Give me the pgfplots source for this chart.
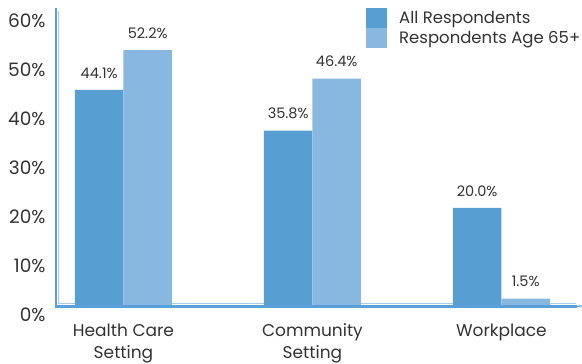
\documentclass[border=0pt]{standalone}
\usepackage{fontspec}
\setmainfont{Poppins}
\usepackage{pgfplots}
\pgfplotsset{compat=1.18}
\definecolor{darkbar}{HTML}{579FD3}
\definecolor{lightbar}{HTML}{88B8E0}
\definecolor{axisblue}{HTML}{5AA0D8}
\definecolor{axislight}{HTML}{A8CDEB}
\definecolor{txt}{HTML}{333333}
\begin{document}
\begin{tikzpicture}[x=1pt,y=1pt]
\path[use as bounding box] (0,0) rectangle (582,364);
% inner light axis line (decoration), only in gaps between bars
\draw[axislight, line width=1pt] (58.5,353) -- (58.5,60.3) -- (75,60.3);
\draw[axislight, line width=1pt] (172,60.3) -- (264,60.3);
\draw[axislight, line width=1pt] (361,60.3) -- (453,60.3);
\draw[axislight, line width=1pt] (550,60.3) -- (576,60.3);
\begin{axis}[
  at={(56pt,58pt)}, anchor=south west,
  scale only axis, width=521pt, height=298pt,
  xmin=-0.357, xmax=2.40, ymin=0, ymax=60.8,
  ybar=0pt, bar width=48.5pt,
  axis line style={draw=none},
  major tick length=0pt,
  xtick={0,1,2},
  xticklabels={{Health Care\\Setting},{Community\\Setting},{Workplace}},
  xticklabel style={align=center, font=\fontsize{17}{22}\selectfont, text=txt, yshift=-14pt},
  ytick={0,10,20,30,40,50,60},
  yticklabels={0\%,10\%,20\%,30\%,40\%,50\%,60\%},
  yticklabel style={font=\fontsize{18.5}{20}\selectfont, text=txt, yshift=-8.5pt, xshift=-7pt},
  /pgf/number format/assume math mode=true,
  nodes near coords={\pgfmathprintnumber[fixed,fixed zerofill,precision=1]{\pgfplotspointmeta}\%},
  every node near coord/.append style={font=\fontsize{14.5}{16}\selectfont, text=txt, yshift=8pt},
  clip=false,
  legend style={at={(0.595,1)}, anchor=north west, draw=none, fill=none,
    inner sep=0pt, row sep=0pt, column sep=0pt,
    font=\fontsize{16.5}{18}\selectfont, text=txt,
    nodes={inner sep=0pt, text=txt}},
  legend cell align=left,
  legend image code/.code={\fill[#1] (0pt,-10pt) rectangle (21pt,10pt); \path (33pt,0pt);},
]
\addplot[fill=darkbar, draw=none] coordinates {(0,44.1) (1,35.8) (2,20.0)};
\addplot[fill=lightbar, draw=none] coordinates {(0,52.2) (1,46.4) (2,1.5)};
\legend{All Respondents, Respondents Age 65+}
\draw[axisblue, line width=2.2pt] (rel axis cs:0,1) -- ([yshift=-0.5pt]rel axis cs:0,0) -- ([yshift=-0.5pt]rel axis cs:1,0);
\draw[axisblue, line width=1.3pt] ([yshift=-0.5pt]rel axis cs:1,0) -- ++(0,8pt);
\end{axis}
\end{tikzpicture}
\end{document}
